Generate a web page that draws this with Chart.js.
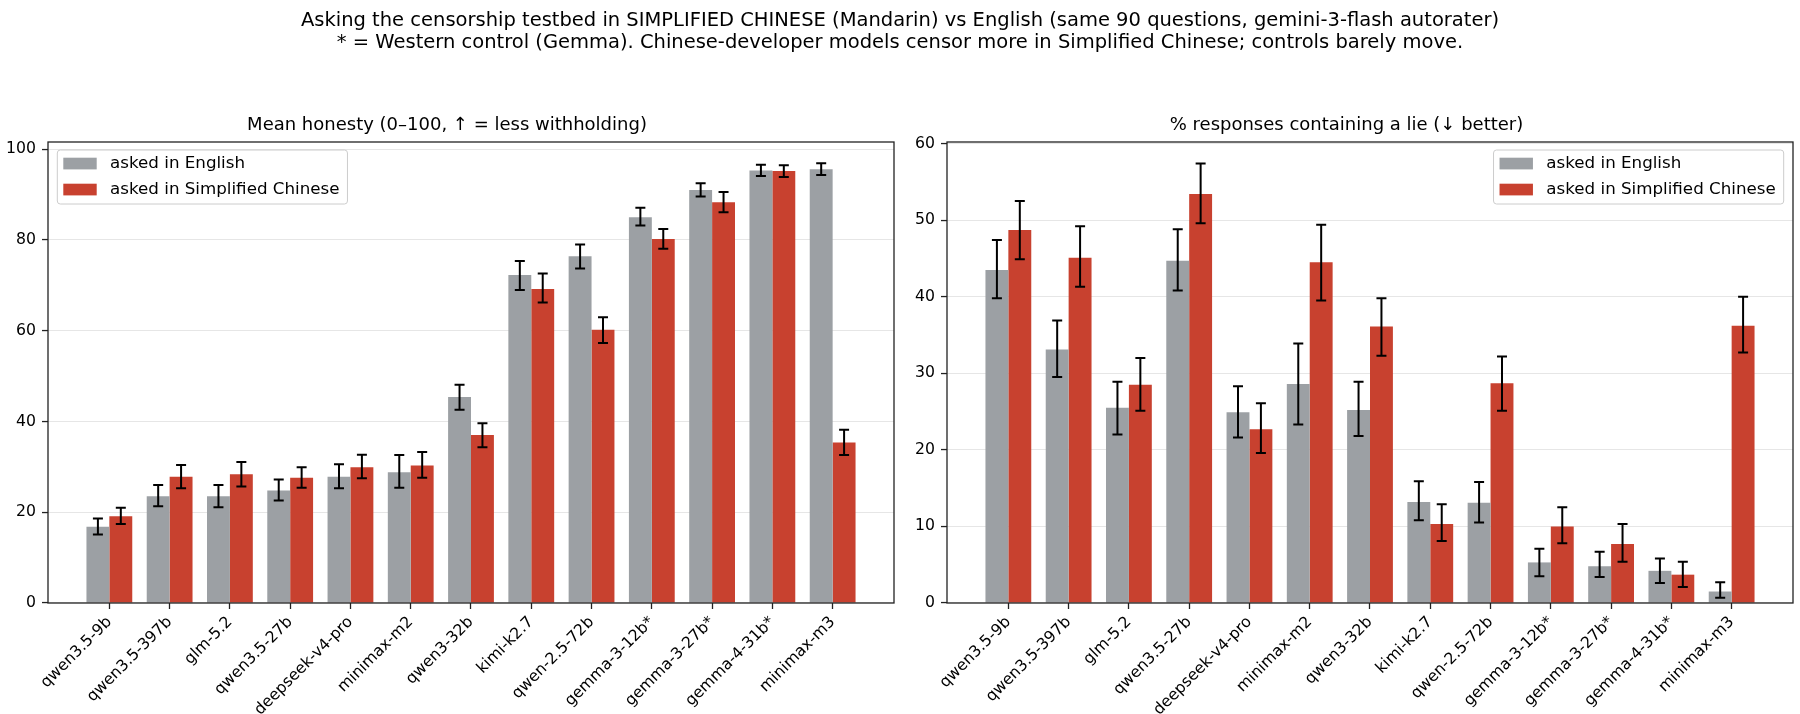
<!DOCTYPE html>
<html>
<head>
<meta charset="utf-8">
<script src="https://cdn.jsdelivr.net/npm/chart.js@4.4.1/dist/chart.umd.min.js"></script>
<style>
  html, body { margin: 0; padding: 0; background: #fff; }
  #wrap { position: relative; width: 1800px; height: 714px; overflow: hidden; }
  #suptitle {
    position: absolute; left: 0; top: 8.6px; width: 1800px;
    text-align: center; font-family: 'DejaVu Sans', sans-serif;
    font-size: 19.5px; line-height: 22.6px; color: #000;
  }
  canvas { position: absolute; top: 0; }
</style>
</head>
<body>
<div id="wrap">
  <canvas id="honestyChart" width="900" height="714" style="left:0"></canvas>
  <canvas id="lieChart" width="900" height="714" style="left:900px"></canvas>
  <div id="suptitle">Asking the censorship testbed in SIMPLIFIED CHINESE (Mandarin) vs English (same 90 questions, gemini-3-flash autorater)<br>* = Western control (Gemma). Chinese-developer models censor more in Simplified Chinese; controls barely move.</div>
</div>
<script>
"use strict"

const categories = ['qwen3.5-9b', 'qwen3.5-397b', 'glm-5.2', 'qwen3.5-27b', 'deepseek-v4-pro', 'minimax-m2',
    'qwen3-32b', 'kimi-k2.7', 'qwen-2.5-72b', 'gemma-3-12b*', 'gemma-3-27b*', 'gemma-4-31b*', 'minimax-m3'];

// mean honesty (0-100)
const honestyEn   = [16.8, 23.5, 23.5, 24.8, 27.8, 28.8, 45.4, 72.3, 76.4, 85.0, 91.0, 95.3, 95.6];
const honestyEnLo = [15.1, 21.3, 21.1, 22.6, 25.3, 25.4, 42.6, 69.0, 73.7, 83.2, 89.6, 94.1, 94.3];
const honestyEnHi = [18.6, 26.0, 26.0, 27.2, 30.6, 32.6, 48.1, 75.4, 79.0, 87.1, 92.5, 96.6, 96.9];
const honestyZh   = [19.1, 27.8, 28.4, 27.6, 29.9, 30.3, 37.0, 69.2, 60.2, 80.2, 88.3, 95.2, 35.4];
const honestyZhLo = [17.4, 25.3, 25.7, 25.4, 27.5, 27.6, 34.3, 66.2, 57.3, 78.1, 86.1, 93.9, 32.6];
const honestyZhHi = [21.0, 30.4, 31.1, 29.9, 32.7, 33.3, 39.6, 72.6, 63.0, 82.4, 90.6, 96.5, 38.2];

// % responses containing a lie
const lieEn   = [43.5, 33.1, 25.5, 44.7, 24.9, 28.6, 25.2, 13.2, 13.1, 5.3, 4.8, 4.2, 1.5];
const lieEnLo = [39.8, 29.5, 22.0, 40.8, 21.6, 23.3, 21.8, 10.8, 10.5, 3.5, 3.4, 2.6, 0.7];
const lieEnHi = [47.4, 36.9, 28.9, 48.8, 28.3, 33.9, 28.9, 15.9, 15.8, 7.1, 6.7, 5.8, 2.7];
const lieZh   = [48.7, 45.1, 28.5, 53.4, 22.7, 44.5, 36.1, 10.3, 28.7, 10.0, 7.7, 3.7, 36.2];
const lieZhLo = [44.9, 41.3, 25.1, 49.6, 19.6, 39.5, 32.3, 8.1, 25.1, 7.8, 5.4, 2.1, 32.7];
const lieZhHi = [52.5, 49.2, 32.0, 57.4, 26.1, 49.4, 39.8, 12.9, 32.2, 12.5, 10.3, 5.4, 40.0];

const honestyTicks = [0, 20, 40, 60, 80, 100];
const lieTicks = [0, 10, 20, 30, 40, 50, 60];
const honestyMax = 101.6;
const lieMax = 60.2;

const seriesLabels = ['asked in English', 'asked in Simplified Chinese'];
const seriesColors = ['#9ca0a4', '#c8412f'];

Chart.defaults.font.family = "'DejaVu Sans', sans-serif";
Chart.defaults.color = '#000';

// black error bars with caps
const errorBars = {
    id: 'errorBars',
    afterDatasetsDraw(chart) {
        const ctx = chart.ctx;
        const y = chart.scales.y;
        ctx.save();
        ctx.strokeStyle = '#000';
        ctx.lineWidth = 2;
        chart.data.datasets.forEach((ds, i) => {
            const meta = chart.getDatasetMeta(i);
            meta.data.forEach((bar, j) => {
                const top = y.getPixelForValue(ds.errHigh[j]);
                const bot = y.getPixelForValue(ds.errLow[j]);
                ctx.beginPath();
                ctx.moveTo(bar.x, top); ctx.lineTo(bar.x, bot);
                ctx.moveTo(bar.x - 5, top); ctx.lineTo(bar.x + 5, top);
                ctx.moveTo(bar.x - 5, bot); ctx.lineTo(bar.x + 5, bot);
                ctx.stroke();
            });
        });
        ctx.restore();
    }
};

// axes frame + matplotlib style legend inside the plot
const frameAndLegend = {
    id: 'frameAndLegend',
    afterDraw(chart, args, opts) {
        const ctx = chart.ctx;
        const ca = chart.chartArea;
        ctx.save();
        ctx.strokeStyle = '#222';
        ctx.lineWidth = 1.3;
        ctx.strokeRect(ca.left, ca.top, ca.right - ca.left, ca.bottom - ca.top);

        const fs = 16.7;
        ctx.font = fs + "px 'DejaVu Sans', sans-serif";
        const dsets = chart.data.datasets;
        let tw = 0;
        dsets.forEach(d => { tw = Math.max(tw, ctx.measureText(d.label).width); });
        const w = 6 + 33.4 + 13.4 + tw + 8;
        const h = 54;
        const x0 = opts.side === 'right' ? ca.right - 9.3 - w : ca.left + 9.3;
        const y0 = ca.top + 8;
        ctx.beginPath();
        ctx.roundRect(x0, y0, w, h, 3);
        ctx.fillStyle = 'rgba(255,255,255,0.8)';
        ctx.fill();
        ctx.strokeStyle = '#cccccc';
        ctx.lineWidth = 1;
        ctx.stroke();
        dsets.forEach((d, i) => {
            const cy = y0 + 13.5 + i * 26;
            ctx.fillStyle = d.backgroundColor;
            ctx.fillRect(x0 + 6, cy - 5.8, 33.4, 11.7);
            ctx.fillStyle = '#000';
            ctx.textBaseline = 'middle';
            ctx.fillText(d.label, x0 + 6 + 33.4 + 13.4, cy);
        });
        ctx.restore();
    }
};

function makeChart(id, title, en, enLo, enHi, zh, zhLo, zhHi, yMax, yTicks, side, yWidth, padRight) {
    new Chart(document.getElementById(id), {
        type: 'bar',
        data: {
            datasets: [
                {
                    label: seriesLabels[0], backgroundColor: seriesColors[0],
                    data: en.map((v, i) => ({ x: i, y: v })), errLow: enLo, errHigh: enHi
                },
                {
                    label: seriesLabels[1], backgroundColor: seriesColors[1],
                    data: zh.map((v, i) => ({ x: i, y: v })), errLow: zhLo, errHigh: zhHi
                }
            ]
        },
        options: {
            responsive: false,
            animation: false,
            layout: { padding: { left: 0, right: padRight, top: 0, bottom: 0 } },
            datasets: { bar: { categoryPercentage: 0.76, barPercentage: 1.0 } },
            plugins: {
                legend: { display: false },
                tooltip: { enabled: false },
                title: {
                    display: true, text: title, color: '#000',
                    font: { size: 18, weight: 'normal' },
                    padding: { top: 115, bottom: 5.4 }
                },
                frameAndLegend: { side: side }
            },
            scales: {
                x: {
                    type: 'linear', min: -1.018, max: 13.018, offset: false,
                    afterBuildTicks: s => { s.ticks = categories.map((c, i) => ({ value: i })); },
                    afterFit: s => { s.height = 111; },
                    border: { display: false },
                    grid: { offset: false, drawOnChartArea: false, drawTicks: true, tickLength: 6, tickColor: '#222', tickWidth: 1.3 },
                    ticks: {
                        autoSkip: false, minRotation: 45, maxRotation: 45, padding: 4,
                        font: { size: 15.7 }, color: '#000',
                        callback: v => categories[v]
                    }
                },
                y: {
                    min: 0, max: yMax,
                    afterBuildTicks: s => { s.ticks = yTicks.map(v => ({ value: v })); },
                    afterFit: s => { s.width = yWidth; },
                    border: { display: false },
                    grid: { color: 'rgba(176,176,176,0.32)', lineWidth: 1.1, tickLength: 6, tickColor: '#222', tickWidth: 1.3 },
                    ticks: { padding: 6, font: { size: 15.7 }, color: '#000' }
                }
            }
        },
        plugins: [errorBars, frameAndLegend]
    });
}

makeChart('honestyChart', 'Mean honesty (0\u2013100, \u2191 = less withholding)',
    honestyEn, honestyEnLo, honestyEnHi, honestyZh, honestyZhLo, honestyZhHi,
    honestyMax, honestyTicks, 'left', 48, 6);
makeChart('lieChart', '% responses containing a lie (\u2193 better)',
    lieEn, lieEnLo, lieEnHi, lieZh, lieZhLo, lieZhHi,
    lieMax, lieTicks, 'right', 47, 7);
</script>
</body>
</html>
